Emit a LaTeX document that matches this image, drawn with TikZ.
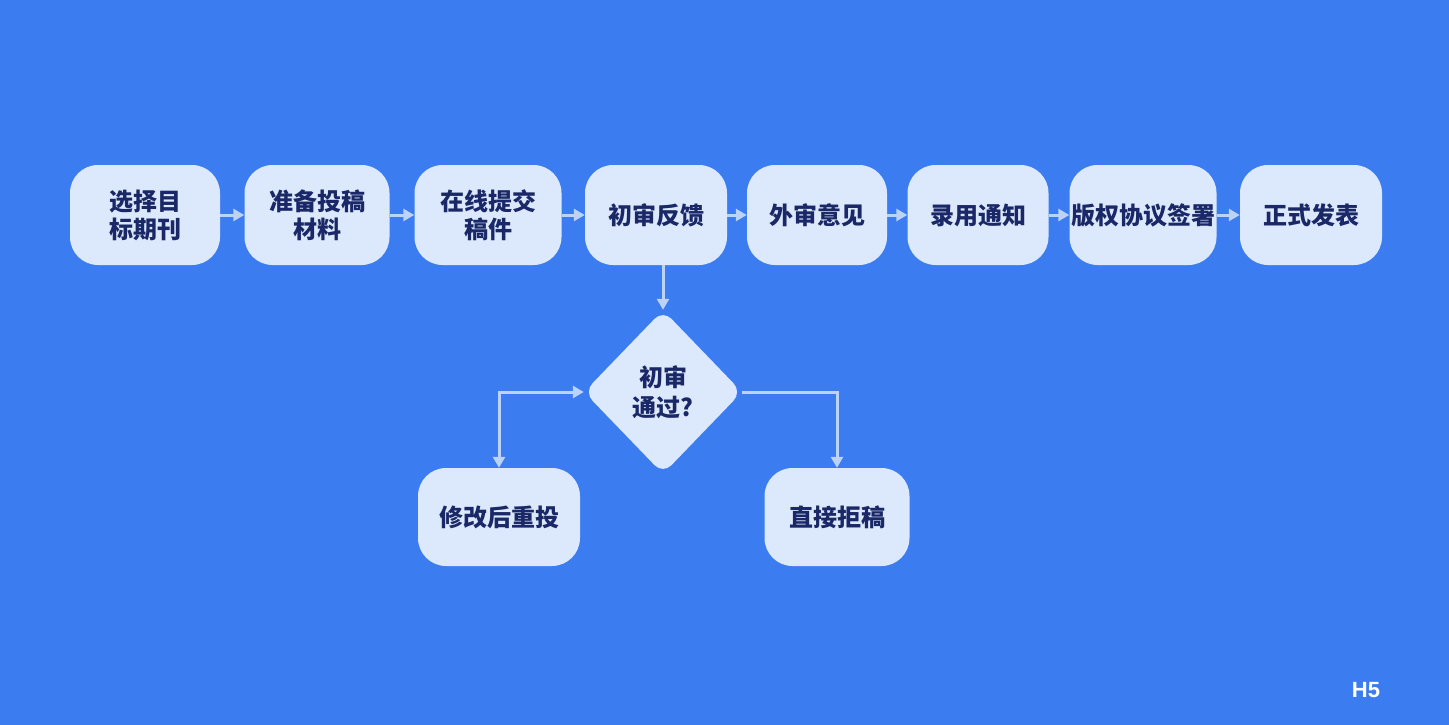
\documentclass[tikz,border=0pt]{standalone}
\usepackage{fontspec}
\setmainfont{Noto Sans CJK SC}
\newfontfamily\hfont{Liberation Sans}
\usetikzlibrary{shapes.geometric,arrows.meta}
\definecolor{bg}{HTML}{3B7CF0}
\definecolor{bx}{HTML}{DCE8FB}
\definecolor{tx}{HTML}{1A2868}
\definecolor{ar}{HTML}{BCD2F6}
\begin{document}
\begin{tikzpicture}[x=1pt,y=-1pt,
 box/.style={draw=none,fill=bx,rounded corners=28pt,minimum height=100pt,text=tx,font=\fontsize{24}{28}\selectfont\bfseries,align=center,inner sep=0pt},
 dia/.style={diamond,fill=bx,rounded corners=12pt,minimum width=158pt,minimum height=164pt,inner sep=0pt,text=tx,font=\fontsize{24}{30}\selectfont\bfseries,align=center},
 arr/.style={draw=ar,line width=3pt,-{Triangle[length=11pt,width=12pt]}}]
\fill[bg] (0,0) rectangle (1449,725);
\useasboundingbox (0,0) rectangle (1449,725);
\node[box,minimum width=150pt] (a) at (145,215) {选择目\\标期刊};
\node[box,minimum width=145pt] (b) at (317,215) {准备投稿\\材料};
\node[box,minimum width=147pt] (c) at (488,215) {在线提交\\稿件};
\node[box,minimum width=142pt] (d) at (656,215) {初审反馈};
\node[box,minimum width=140pt] (e) at (817,215) {外审意见};
\node[box,minimum width=141pt] (f) at (978,215) {录用通知};
\node[box,minimum width=147pt] (g) at (1143,215) {版权协议签署};
\node[box,minimum width=142pt] (h) at (1311,215) {正式发表};
\node[dia] (q) at (663,392) {初审\\通过?};
\node[box,minimum width=162pt,minimum height=98pt] (r) at (499,517) {修改后重投};
\node[box,minimum width=145pt,minimum height=98pt] (j) at (837,517) {直接拒稿};
\foreach \u/\v in {a/b,b/c,c/d,d/e,e/f,f/g,g/h} \draw[arr] (\u) -- (\v);
\draw[arr] (q.north |- d.south) -- (q.north);
\draw[arr,{Triangle[length=11pt,width=12pt]}-{Triangle[length=11pt,width=12pt]}] (q.west) -| (r.north);
\draw[arr] (q.east) -| (j.north);
\node[text=white,font=\hfont\fontsize{22}{24}\selectfont\bfseries] (hh) at (1366,690) {H5};
\end{tikzpicture}
\end{document}
